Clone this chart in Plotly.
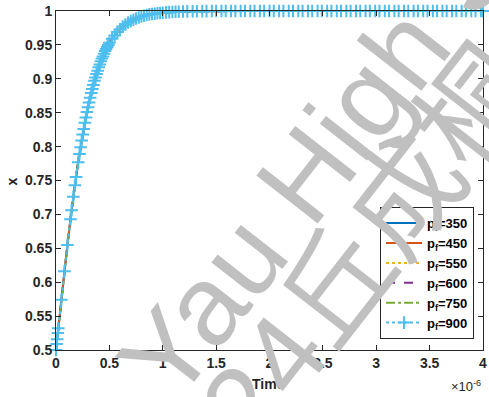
import plotly.graph_objects as go

# ---- data (time in units of 1e-6) ----
time_us = [
    0, 0.006, 0.011, 0.017, 0.021, 0.05, 0.079, 0.107, 0.136, 0.146,
    0.162, 0.177, 0.188, 0.208,
    0.22, 0.23, 0.24, 0.25, 0.26, 0.27, 0.28, 0.29, 0.30, 0.31,
    0.32, 0.33, 0.34, 0.35, 0.36, 0.37, 0.38, 0.39, 0.40, 0.41,
    0.42, 0.43, 0.44, 0.45, 0.46, 0.47, 0.48, 0.49, 0.50,
    0.525, 0.55, 0.575, 0.6, 0.625, 0.65, 0.675, 0.7, 0.725, 0.75,
    0.775, 0.8, 0.825, 0.85, 0.875, 0.9, 0.925, 0.95, 0.975, 1.0,
    1.03, 1.06, 1.09, 1.12, 1.15,
    1.19, 1.23, 1.28, 1.32, 1.37, 1.41, 1.46, 1.50, 1.55, 1.59,
    1.64, 1.68, 1.73, 1.77, 1.82, 1.86, 1.91, 1.95, 2.00, 2.04,
    2.09, 2.13, 2.18, 2.22, 2.27, 2.31, 2.36, 2.40, 2.45, 2.49,
    2.54, 2.58, 2.63, 2.67, 2.72, 2.76, 2.81, 2.85, 2.90, 2.94,
    2.99, 3.03, 3.08, 3.12, 3.17, 3.21, 3.26, 3.30, 3.35, 3.39,
    3.44, 3.48, 3.53, 3.57, 3.62, 3.66, 3.71, 3.75, 3.80, 3.84,
    3.89, 3.93, 3.98, 4.0,
]

x_frac = [
    0.5, 0.509, 0.516, 0.525, 0.532, 0.574, 0.616, 0.655, 0.693, 0.706,
    0.726, 0.743, 0.755, 0.777,
    0.789, 0.799, 0.809, 0.818, 0.826, 0.835, 0.843, 0.851, 0.858, 0.865,
    0.872, 0.879, 0.885, 0.891, 0.897, 0.902, 0.907, 0.912, 0.917, 0.921,
    0.926, 0.930, 0.933, 0.937, 0.941, 0.944, 0.947, 0.950, 0.953,
    0.959, 0.964, 0.969, 0.973, 0.977, 0.980, 0.983, 0.985, 0.987, 0.989,
    0.9905, 0.992, 0.993, 0.994, 0.995, 0.9955, 0.996, 0.9967, 0.997, 0.9975,
    0.998, 0.9983, 0.9986, 0.9988, 0.999,
    0.9993, 0.9995, 0.9996, 0.9997, 0.9998, 0.9998, 0.9999, 0.9999, 1.0, 1.0,
    1.0, 1.0, 1.0, 1.0, 1.0, 1.0, 1.0, 1.0, 1.0, 1.0,
    1.0, 1.0, 1.0, 1.0, 1.0, 1.0, 1.0, 1.0, 1.0, 1.0,
    1.0, 1.0, 1.0, 1.0, 1.0, 1.0, 1.0, 1.0, 1.0, 1.0,
    1.0, 1.0, 1.0, 1.0, 1.0, 1.0, 1.0, 1.0, 1.0, 1.0,
    1.0, 1.0, 1.0, 1.0, 1.0, 1.0, 1.0, 1.0, 1.0, 1.0,
    1.0, 1.0, 1.0, 1.0,
]

pf_values = [350, 450, 550, 600, 750, 900]
series_colors = ["#0072BD", "#D95319", "#EDB120", "#7E2F8E", "#77AC30", "#4DBEEE"]
series_dash = ["solid", "solid", "dot", "dash", "dashdot", "dot"]

x_tick_vals = [0, 0.5, 1, 1.5, 2, 2.5, 3, 3.5, 4]
x_tick_text = ["0", "0.5", "1", "1.5", "2", "2.5", "3", "3.5", "4"]
y_tick_vals = [0.5, 0.55, 0.6, 0.65, 0.7, 0.75, 0.8, 0.85, 0.9, 0.95, 1.0]
y_tick_text = ["0.5", "0.55", "0.6", "0.65", "0.7", "0.75", "0.8", "0.85", "0.9", "0.95", "1"]

AX = "#262626"
FONT = "Liberation Sans, Arial, sans-serif"

fig = go.Figure()
for i, pf in enumerate(pf_values):
    is_last = i == len(pf_values) - 1
    fig.add_trace(go.Scatter(
        x=time_us, y=x_frac,
        mode="lines+markers" if is_last else "lines",
        name=f"p<sub>f</sub>={pf}",
        line=dict(color=series_colors[i], width=2, dash=series_dash[i]),
        marker=dict(symbol="cross-thin", size=9,
                    line=dict(width=2, color=series_colors[i])) if is_last else None,
        cliponaxis=False,
        legendgroup=str(pf),
    ))

axis_common = dict(
    showline=True, linecolor=AX, linewidth=1, mirror="ticks",
    ticks="inside", ticklen=5, tickcolor=AX, tickwidth=1,
    showgrid=False, zeroline=False, ticklabeloverflow="allow",
    tickfont=dict(family=FONT, size=14, color=AX, weight="bold"),
)

fig.update_layout(
    width=489, height=397,
    margin=dict(l=56, r=2, t=11, b=47),
    paper_bgcolor="white", plot_bgcolor="white",
    font=dict(family=FONT, color=AX),
    xaxis=dict(range=[0, 4], tickmode="array", tickvals=x_tick_vals,
               ticktext=x_tick_text, **axis_common),
    yaxis=dict(range=[0.5, 1], tickmode="array", tickvals=y_tick_vals,
               ticktext=y_tick_text, **axis_common),
    legend=dict(x=0.979, xanchor="right", y=0.032, yanchor="bottom",
                bgcolor="white", bordercolor=AX, borderwidth=1,
                font=dict(family=FONT, size=13, color="black", weight="bold"),
                itemwidth=36, tracegroupgap=0),
    showlegend=True,
)

annots = [
    dict(text="Time", x=0.4965, y=-0.100, xref="paper", yref="paper",
         xanchor="center", yanchor="middle", showarrow=False,
         font=dict(family=FONT, size=14, color=AX, weight="bold")),
    dict(text="x", x=-0.102, y=0.4985, xref="paper", yref="paper",
         xanchor="center", yanchor="middle", showarrow=False, textangle=-90,
         font=dict(family=FONT, size=14, color=AX, weight="bold")),
    dict(text="×10<sup>-6</sup>", x=1.0, y=-0.105, xref="paper", yref="paper",
         xanchor="right", yanchor="middle", showarrow=False,
         font=dict(family=FONT, size=13, color=AX)),
    # watermark
    dict(text="S.-T. Yau High School", x=0.617, y=0.566, xref="paper", yref="paper",
         xanchor="center", yanchor="middle", showarrow=False, textangle=-52,
         font=dict(family=FONT, size=113, color="#c0c0c0")),
    dict(text="2024丘成桐中学科学奖", x=1.049, y=0.817, xref="paper", yref="paper",
         xanchor="center", yanchor="middle", showarrow=False, textangle=-52,
         font=dict(family="Liberation Sans, Noto Sans CJK SC, sans-serif",
                   size=113, color="#c0c0c0")),
]
fig.update_layout(annotations=annots)

fig.write_html("out.html", config={"displayModeBar": False},
               post_script="document.body.style.margin='0';document.body.style.overflow='hidden';")
